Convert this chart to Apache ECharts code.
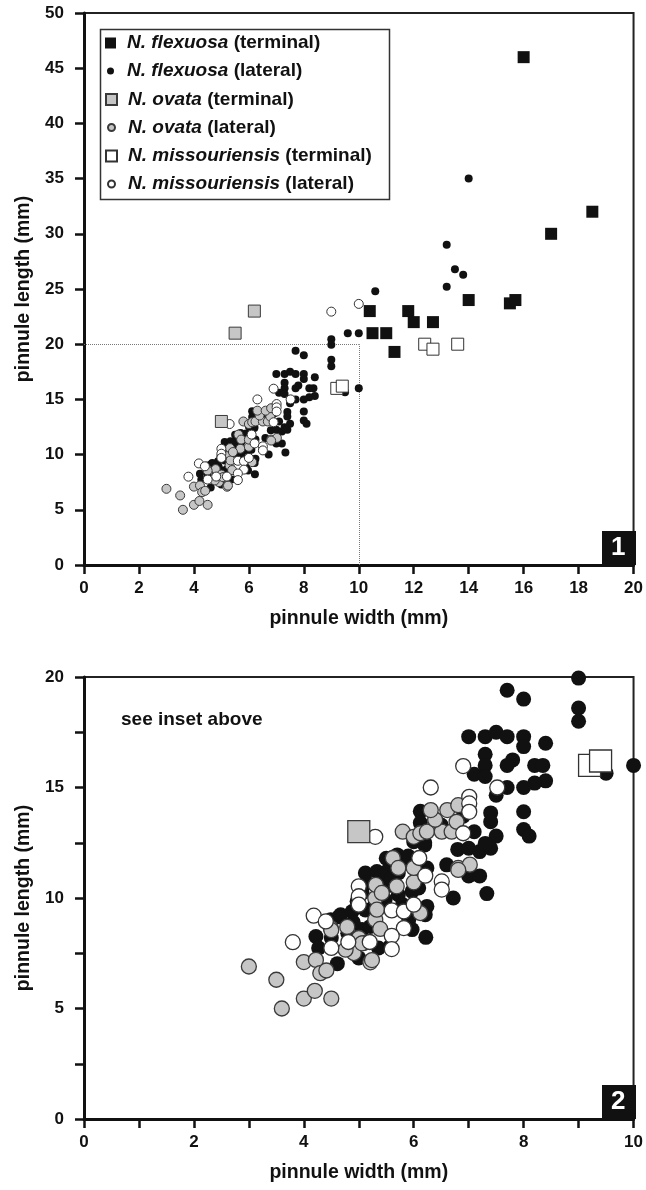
<!DOCTYPE html>
<html>
<head>
<meta charset="utf-8">
<script src="https://cdn.jsdelivr.net/npm/echarts@6/dist/echarts.min.js"></script>
<style>
  html, body { margin: 0; padding: 0; background: #fff; }
  #chart { width: 646px; height: 1190px; }
</style>
</head>
<body>
<div id="chart"></div>
<script>
// pinnule width / length (mm)
const flexTerm = [
  [16.0, 46.0], [18.5, 32.0], [17.0, 30.0], [14.0, 24.0], [15.5, 23.7], [15.7, 24.0],
  [10.4, 23.0], [11.8, 23.0], [12.0, 22.0], [12.7, 22.0], [10.5, 21.0], [11.0, 21.0], [11.3, 19.3]
];
const flexLat = [
  [14.0, 35.0], [13.2, 29.0], [13.5, 26.8], [13.8, 26.3], [13.2, 25.2], [10.6, 24.8],
  [9.6, 21.0], [10.0, 21.0], [9.0, 20.45],
  [9.0, 19.95], [7.7, 19.4], [8.0, 19.0], [9.0, 18.6], [9.0, 18.0],
  [7.0, 17.3], [7.3, 17.3], [7.5, 17.5], [7.7, 17.3], [8.0, 17.3], [8.0, 16.85], [8.4, 17.0],
  [7.3, 16.5], [7.8, 16.25], [7.7, 16.0], [8.2, 16.0], [8.35, 16.0], [7.3, 16.0], [7.1, 15.6], [7.3, 15.5],
  [9.5, 15.65], [10.0, 16.0],
  [8.4, 15.3], [8.2, 15.2], [8.0, 15.0], [7.7, 15.0], [7.5, 14.65],
  [7.4, 13.85], [7.4, 13.45], [8.0, 13.9], [8.0, 13.1], [8.1, 12.8], [7.5, 12.8],
  [6.12, 13.92], [6.12, 13.4], [7.1, 13.0],
  [6.8, 12.2], [7.0, 12.25], [7.2, 12.1], [7.4, 12.25], [7.3, 12.47], [6.2, 12.5], [6.0, 12.55], [6.2, 12.4],
  [6.6, 11.5], [7.0, 11.0], [7.2, 11.0], [7.33, 10.2], [6.72, 10.0],
  [5.5, 11.8], [5.7, 11.95], [5.88, 11.58], [6.09, 11.43], [6.24, 11.36],
  [5.12, 11.13], [5.33, 11.2], [5.54, 11.28], [5.42, 10.98], [5.72, 11.13],
  [5.51, 10.53], [5.15, 10.68], [5.72, 10.15], [5.97, 10.3], [6.09, 10.45],
  [5.06, 10.23], [4.97, 9.85], [5.3, 9.77], [5.48, 9.92],
  [4.88, 9.39], [4.67, 9.24], [4.49, 9.02], [4.64, 9.15], [5.12, 9.46],
  [4.22, 8.26], [4.27, 7.74], [5.91, 9.02], [5.97, 8.57], [6.24, 9.62], [6.21, 9.24], [6.22, 8.22],
  [5.06, 8.57], [5.21, 8.71], [5.36, 7.74], [5.57, 7.81], [4.61, 7.03], [5.0, 7.29],
  [4.8, 8.4], [4.5, 8.2], [5.6, 10.9], [5.9, 11.9], [6.5, 13.3], [6.9, 13.7], [5.8, 9.7], [4.9, 8.9]
];
const ovataTerm = [[6.2, 23.0], [5.5, 21.0], [5.0, 13.0]];
const ovataLat = [
  [3.0, 6.9], [3.5, 6.3], [3.6, 5.0], [4.0, 5.45], [4.5, 5.45], [4.2, 5.8],
  [4.0, 7.1], [4.22, 7.2], [4.3, 6.6], [4.41, 6.72],
  [4.49, 8.64], [4.79, 8.69], [5.3, 9.02], [5.39, 8.6], [6.12, 9.32], [5.0, 8.19], [5.09, 7.96],
  [4.91, 7.51], [5.21, 7.09], [4.76, 7.66], [5.06, 7.95], [5.24, 7.19], [4.5, 8.55],
  [5.3, 9.99], [5.31, 10.59], [5.33, 9.47], [5.69, 10.53], [6.0, 10.71], [5.42, 10.23],
  [5.62, 11.81], [5.72, 11.36], [6.0, 11.36], [6.81, 11.36], [7.02, 11.51], [6.81, 11.27],
  [5.8, 13.0], [6.0, 12.77], [6.12, 12.93], [6.24, 13.0], [6.51, 13.0], [6.69, 13.0], [6.39, 13.54], [6.78, 13.45],
  [6.31, 13.98], [6.61, 13.98], [6.81, 14.2]
];
const missTerm = [[9.2, 16.0], [9.4, 16.2], [12.4, 20.0], [12.7, 19.55], [13.6, 20.0]];
const missLat = [
  [10.0, 23.65], [9.0, 22.95],
  [6.9, 15.97], [6.31, 15.0], [7.52, 15.0], [7.01, 14.58], [7.01, 14.28], [7.01, 13.9], [6.9, 12.93],
  [5.3, 12.77], [6.1, 11.81], [6.21, 11.01], [6.51, 10.75], [6.51, 10.38],
  [5.0, 10.53], [5.0, 10.08], [5.0, 9.7], [4.18, 9.2], [4.4, 8.94], [5.6, 9.44], [5.82, 9.39], [6.0, 9.7],
  [5.82, 8.64], [5.6, 8.29], [4.81, 8.01], [5.2, 8.01], [5.6, 7.69], [4.5, 7.74], [3.8, 8.0]
];
const insetX = 10, insetY = 20;

const names = [
  'N. flexuosa (terminal)', 'N. flexuosa (lateral)',
  'N. ovata (terminal)', 'N. ovata (lateral)',
  'N. missouriensis (terminal)', 'N. missouriensis (lateral)'
];

const FONT = 'Liberation Sans, Arial, sans-serif';
const INK = '#111';
const chart = echarts.init(document.getElementById('chart'));

const styles = {
  flexTerm: { color: INK, opacity: 1 },
  flexLat: { color: INK, opacity: 1 },
  ovataTerm: { color: '#c6c6c6', borderColor: '#3a3a3a', borderWidth: 1, opacity: 1 },
  ovataLat: { color: '#c6c6c6', borderColor: '#3a3a3a', borderWidth: 1, opacity: 1 },
  missTerm: { color: '#fff', borderColor: '#333', borderWidth: 1, opacity: 1 },
  missLat: { color: '#fff', borderColor: '#333', borderWidth: 1, opacity: 1 }
};

function inInset(p) { return p[0] <= insetX + 0.05 && p[1] <= insetY + 0.05; }

function sc(name, data, gi, sym, size, st, z) {
  return {
    name: name, type: 'scatter', xAxisIndex: gi, yAxisIndex: gi,
    data: gi === 1 ? data.filter(inInset) : data,
    symbol: sym, symbolSize: size, itemStyle: st, clip: false, silent: true, z: z
  };
}

function makeSeries(gi) {
  const big = gi === 1;
  const c = big ? 15 : 8, c2 = big ? 15 : 9, s = big ? 22 : 12;
  const bw = big ? 1.3 : 1;
  const g = Object.assign({}, styles.ovataLat, { borderWidth: bw });
  const w = Object.assign({}, styles.missLat, { borderWidth: bw });
  return [
    sc(names[1], flexLat, gi, 'circle', c, styles.flexLat, 2),
    sc(names[3], ovataLat, gi, 'circle', c2, g, 3),
    sc(names[5], missLat, gi, 'circle', c2, w, 4),
    sc(names[2], ovataTerm, gi, 'rect', s, g, 5),
    sc(names[4], missTerm, gi, 'rect', s, w, 5),
    sc(names[0], flexTerm, gi, 'rect', s, styles.flexTerm, 6)
  ];
}

function xAx(gi, max, interval, labelEvery) {
  return {
    gridIndex: gi, type: 'value', min: 0, max: max, interval: interval,
    name: 'pinnule width (mm)', nameLocation: 'middle', nameGap: 44,
    nameTextStyle: { fontFamily: FONT, fontWeight: 'bold', fontSize: 19.5, color: INK },
    axisLine: { onZero: false, lineStyle: { color: INK, width: 3 } },
    axisTick: { length: 9, lineStyle: { color: INK, width: 2.5 } },
    axisLabel: {
      margin: 15, fontFamily: FONT, fontWeight: 'bold', fontSize: 17, color: INK,
      formatter: v => (Math.round(v) % labelEvery === 0 ? String(v) : '')
    },
    splitLine: { show: false }
  };
}
function yAx(gi, max, interval, labelEvery) {
  return {
    gridIndex: gi, type: 'value', min: 0, max: max, interval: interval,
    name: 'pinnule length (mm)', nameLocation: 'middle', nameGap: 50, nameRotate: 90,
    nameTextStyle: { fontFamily: FONT, fontWeight: 'bold', fontSize: 19.5, color: INK },
    axisLine: { onZero: false, lineStyle: { color: INK, width: 3 } },
    axisTick: { length: 9, lineStyle: { color: INK, width: 2.5 } },
    axisLabel: {
      margin: 20, fontFamily: FONT, fontWeight: 'bold', fontSize: 17, color: INK,
      formatter: v => (v % labelEvery === 0 ? String(v) : '')
    },
    splitLine: { show: false }
  };
}

const rowY = [43, 71, 99.5, 127.5, 156, 184];
const legends = names.map(function (n, i) {
  const sq = i % 2 === 0;
  return {
    data: [n], orient: 'vertical', left: sq ? 105 : 107, top: rowY[i] - 11, padding: 0,
    itemWidth: sq ? 11 : 7, itemHeight: sq ? 11 : 7, selectedMode: false,
    formatter: function (name) {
      const m = name.match(/^(N\. \w+) (\(.*\))$/);
      return '{i|' + m[1] + '} {n|' + m[2] + '}';
    },
    textStyle: {
      fontFamily: FONT, fontWeight: 'bold', fontSize: 19, color: INK, lineHeight: 22,
      rich: {
        i: { fontFamily: FONT, fontWeight: 'bold', fontStyle: 'italic', fontSize: 19, color: INK, lineHeight: 22, padding: [0, 0, 0, sq ? 6 : 8] },
        n: { fontFamily: FONT, fontWeight: 'bold', fontSize: 19, color: INK, lineHeight: 22 }
      }
    }
  };
});

const series = makeSeries(0).concat(makeSeries(1));
series[0].markLine = {
  silent: true, symbol: 'none', label: { show: false }, z: 1,
  lineStyle: { color: '#777', width: 1, type: 'dotted' },
  data: [
    [{ coord: [0, insetY] }, { coord: [insetX, insetY] }],
    [{ coord: [insetX, 0] }, { coord: [insetX, insetY] }]
  ]
};

chart.setOption({
  animation: false,
  backgroundColor: '#fff',
  grid: [
    { left: 84, right: 10, top: 13, bottom: 625, show: true, borderColor: '#222', borderWidth: 2 },
    { left: 84, right: 10, top: 677, bottom: 71, show: true, borderColor: '#222', borderWidth: 2 }
  ],
  xAxis: [xAx(0, 20, 2, 2), xAx(1, 10, 1, 2)],
  yAxis: [yAx(0, 50, 5, 5), yAx(1, 20, 2.5, 5)],
  legend: legends,
  graphic: [
    { type: 'rect', left: 98, top: 27, shape: { width: 289, height: 170 },
      style: { fill: 'none', stroke: '#333', lineWidth: 1.5 }, z: 10 },
    { type: 'rect', left: 602, top: 531, shape: { width: 34, height: 34 }, style: { fill: INK }, z: 10 },
    { type: 'text', left: 611, top: 535, style: { text: '1', fill: '#fff', font: 'bold 26px ' + FONT }, z: 11 },
    { type: 'rect', left: 602, top: 1085, shape: { width: 34, height: 34 }, style: { fill: INK }, z: 10 },
    { type: 'text', left: 611, top: 1089, style: { text: '2', fill: '#fff', font: 'bold 26px ' + FONT }, z: 11 },
    { type: 'text', left: 121, top: 710, style: { text: 'see inset above', fill: INK, font: 'bold 19px ' + FONT }, z: 11 }
  ],
  series: series
});
</script>
</body>
</html>
